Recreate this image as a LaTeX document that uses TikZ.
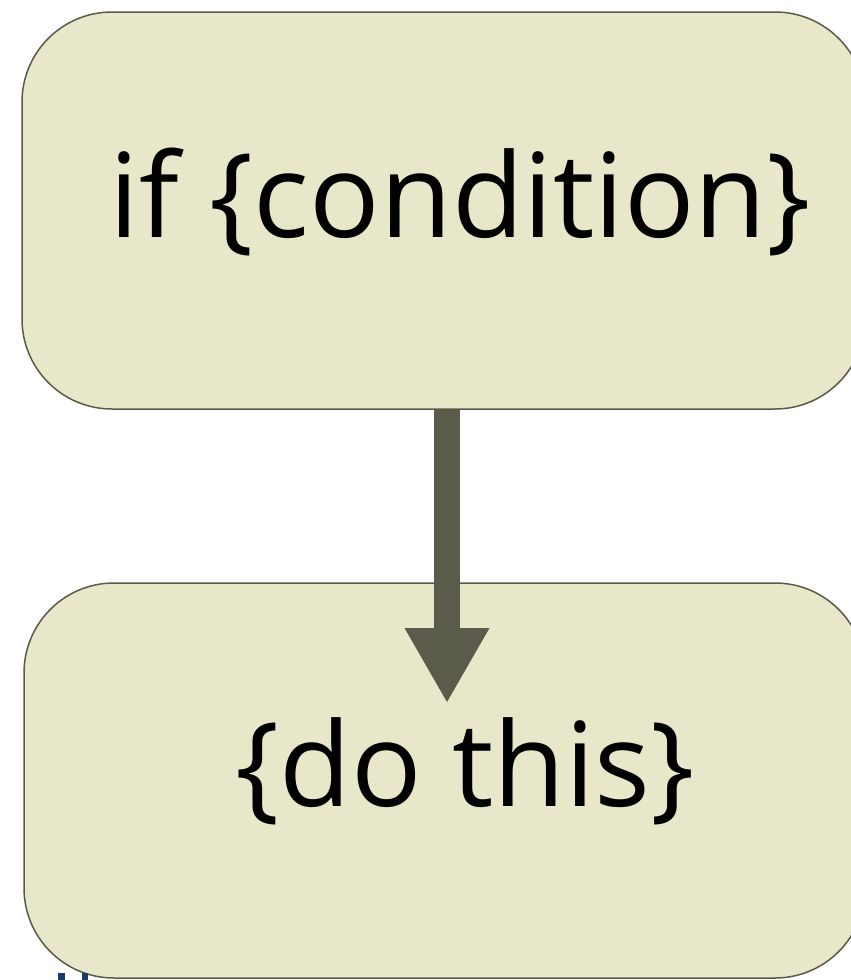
\documentclass[tikz,border=0pt]{standalone}
\usepackage{fontspec}
\setmainfont{Open Sans}
\usetikzlibrary{arrows.meta,calc}
\definecolor{boxfill}{HTML}{E8E7C9}
\definecolor{boxline}{HTML}{5A5A4A}
\definecolor{arrowcol}{HTML}{5B5B4B}
\definecolor{blueink}{HTML}{1F3B6B}
\tikzset{
  box/.style={draw=boxline, fill=boxfill, line width=1.5pt, rounded corners=90pt, inner sep=0pt},
  label text/.style={anchor=base, inner sep=0pt, font=\fontsize{117}{130}\selectfont},
  flow/.style={draw=arrowcol, line width=26pt, -{Triangle[width=85pt,length=74pt,line width=0pt,fill=arrowcol]}}
}
\begin{document}
\begin{tikzpicture}[x=1pt,y=-1pt]
\useasboundingbox (0,0) rectangle (851,980);
\clip (0,0) rectangle (851,980);
\node[box, minimum width=843pt, minimum height=397pt] (top) at (443.5,210.5) {};
\node[box, minimum width=841pt, minimum height=395pt] (bottom) at (444.5,780.5) {};
\node[label text] (cond) at (460.5,237) {if \{condition\}};
\node[label text] (act) at (465,806) {\{do this\}};
\coordinate (tip) at (447,702);
\draw[flow] (top.south -| tip) -- (tip);
\fill[blueink] (58,973) rectangle (65,980);
\fill[blueink] (82,973) rectangle (88,980);
\end{tikzpicture}
\end{document}
